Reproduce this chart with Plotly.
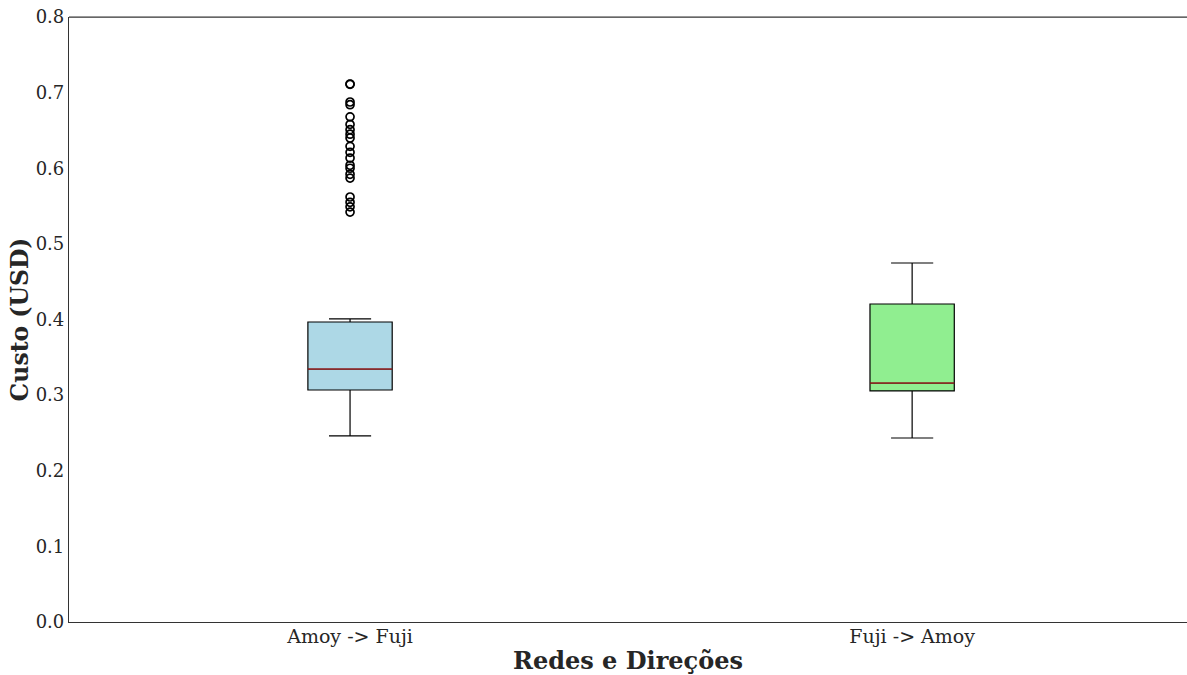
import plotly.graph_objects as go

categories = ["Amoy -> Fuji", "Fuji -> Amoy"]
box_colors = ["lightblue", "lightgreen"]
q1 = [0.3068, 0.3055]
median = [0.3345, 0.3160]
q3 = [0.3967, 0.4205]
lower_whisker = [0.2460, 0.2433]
upper_whisker = [0.4007, 0.4747]
outliers_amoy_fuji = [0.7114, 0.7110, 0.6876, 0.6840, 0.6680, 0.6580, 0.6510, 0.6450,
                      0.6400, 0.6290, 0.6210, 0.6135, 0.6040, 0.6000, 0.5920, 0.5870,
                      0.5620, 0.5550, 0.5490, 0.5420]
outliers_fuji_amoy = []

positions = list(range(len(categories)))
box_width = 0.15
font = "DejaVu Serif"
text_color = "#262626"

fig = go.Figure()
for i, cat in enumerate(categories):
    fig.add_trace(go.Box(
        x=[positions[i]], q1=[q1[i]], median=[median[i]], q3=[q3[i]],
        lowerfence=[lower_whisker[i]], upperfence=[upper_whisker[i]],
        width=box_width, whiskerwidth=0.5,
        fillcolor=box_colors[i], line=dict(color="black", width=1.2),
        boxpoints=False, name=cat, showlegend=False, hoverinfo="skip",
    ))
    fig.add_trace(go.Scatter(
        x=[positions[i] - box_width / 2, positions[i] + box_width / 2],
        y=[median[i], median[i]], mode="lines",
        line=dict(color="#d62728", width=1), showlegend=False, hoverinfo="skip",
    ))

for i, outs in enumerate([outliers_amoy_fuji, outliers_fuji_amoy]):
    if outs:
        fig.add_trace(go.Scatter(
            x=[positions[i]] * len(outs), y=outs, mode="markers",
            marker=dict(symbol="circle-open", size=8, color="black", line=dict(width=1.7)),
            showlegend=False, hoverinfo="skip",
        ))

fig.update_layout(
    width=1187, height=675,
    margin=dict(l=69, r=0, t=17, b=53),
    plot_bgcolor="white", paper_bgcolor="white",
    font=dict(family=font, color=text_color),
    xaxis=dict(
        range=[-0.5, 1.489], tickvals=positions, ticktext=categories,
        showgrid=False, zeroline=False, showline=True, linecolor="#333333", linewidth=1.25,
        ticks="", tickfont=dict(size=19, family=font, color=text_color),
        ticklabelstandoff=-3,
        title=dict(text="<b>Redes e Direções</b>", font=dict(size=24, family=font, color=text_color), standoff=6),
    ),
    yaxis=dict(
        range=[0, 0.8], tickvals=[0, 0.1, 0.2, 0.3, 0.4, 0.5, 0.6, 0.7, 0.8],
        tickformat=".1f",
        showgrid=False, zeroline=False, showline=True, linecolor="#333333", linewidth=1.25,
        ticks="", tickfont=dict(size=18, family=font, color=text_color),
        ticklabelstandoff=0,
        title=dict(text="<b>Custo (USD)</b>", font=dict(size=23.5, family=font, color=text_color), standoff=0),
    ),
    shapes=[dict(type="line", xref="paper", yref="paper", x0=0, x1=1, y0=1, y1=1,
                 line=dict(color="#333333", width=1.25))],
)

fig.write_html("out.html")
